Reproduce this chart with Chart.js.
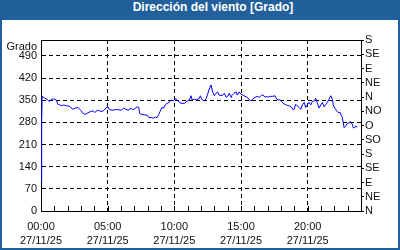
<!DOCTYPE html>
<html>
<head>
<meta charset="utf-8">
<script src="https://cdn.jsdelivr.net/npm/chart.js@4"></script>
<style>
  body { margin: 0; }
  #marco { position: relative; width: 400px; height: 250px; background: #21609b; }
  #titulo { position: absolute; left: 0; top: 0; width: 374px; padding-left: 26px; height: 20px;
            line-height: 20px; text-align: center; color: #fff; font: bold 12px "Liberation Sans", Arial, sans-serif; }
  #caja { position: absolute; left: 2px; top: 20px; width: 396px; height: 228px; background: #fff; }
</style>
</head>
<body>
<div id="marco">
  <div id="titulo">Dirección del viento [Grado]</div>
  <div id="caja"><canvas id="migrafico" width="396" height="228"></canvas></div>
</div>
<script>
// minutos desde las 00:00 del 27/11/25
const minutos = [2, 3, 5, 17, 27, 36, 46, 57, 69, 76,
    84, 94, 103, 114, 125, 134, 144, 154, 166, 179,
    189, 199, 211, 222, 234, 242, 253, 264, 274, 283,
    292, 301, 307, 320, 334, 350, 361, 372, 382, 395,
    402, 413, 424, 432, 440, 444, 454, 467, 477, 485,
    496, 507, 514, 522, 530, 537, 544, 552, 559, 567,
    577, 585, 595, 607, 620, 630, 645, 660, 670, 675,
    680, 690, 701, 712, 717, 725, 735, 743, 750, 757,
    765, 773, 780, 788, 795, 802, 810, 818, 825, 833,
    840, 847, 855, 858, 869, 878, 883, 892, 899, 908,
    918, 928, 937, 945, 953, 963, 973, 982, 993, 1000,
    1008, 1016, 1023, 1030, 1043, 1053, 1061, 1068, 1076, 1083,
    1090, 1098, 1106, 1117, 1128, 1135, 1139, 1146, 1153, 1161,
    1169, 1176, 1184, 1191, 1198, 1206, 1214, 1221, 1229, 1236,
    1243, 1251, 1259, 1266, 1274, 1281, 1288, 1296, 1304, 1311,
    1315, 1322, 1331, 1337, 1346, 1351, 1356, 1364, 1371, 1378,
    1386, 1394, 1401, 1405, 1412, 1416, 1423];
const grados = [93, 280, 363, 356, 353, 346, 352, 354, 350, 337,
    335, 332, 335, 332, 332, 327, 321, 325, 327, 318,
    308, 305, 310, 314, 316, 311, 318, 316, 314, 318,
    325, 329, 321, 318, 320, 320, 318, 325, 321, 318,
    325, 320, 324, 329, 327, 308, 305, 303, 303, 295,
    295, 293, 297, 295, 305, 316, 327, 325, 335, 340,
    343, 351, 348, 355, 345, 340, 340, 348, 353, 364,
    351, 353, 351, 355, 364, 351, 348, 355, 369, 385,
    398, 375, 364, 372, 376, 366, 364, 366, 372, 359,
    362, 372, 359, 364, 372, 376, 366, 376, 369, 366,
    362, 359, 351, 348, 353, 359, 362, 359, 366, 366,
    359, 362, 359, 362, 362, 364, 353, 351, 351, 345,
    340, 337, 334, 332, 327, 319, 321, 337, 332, 327,
    321, 335, 343, 327, 335, 343, 335, 346, 348, 356,
    343, 325, 335, 343, 329, 335, 343, 353, 364, 353,
    335, 325, 316, 311, 311, 303, 295, 263, 268, 276,
    279, 282, 274, 263, 263, 268, 265];
const fecha = "27/11/25";
const rumbos = ["N", "NE", "E", "SE", "S", "SO", "O", "NO", "N", "NE", "E", "SE", "S"];

const fuente = { family: '"Liberation Sans", Arial, sans-serif', size: 11, lineHeight: 1.36 };

const decoracion = {
    id: "decoracion",
    afterDraw(chart) {
        const { ctx, chartArea: a, scales } = chart;
        ctx.save();
        ctx.strokeStyle = "#000";
        ctx.lineWidth = 1;
        ctx.beginPath();
        ctx.moveTo(a.left, a.top + 0.5);
        ctx.lineTo(a.right, a.top + 0.5);
        for (let m = 60; m < 1440; m += 60) {
            const x = Math.round(scales.x.getPixelForValue(m)) + 0.5;
            ctx.moveTo(x, a.bottom);
            ctx.lineTo(x, a.bottom - 5);
        }
        ctx.stroke();
        ctx.fillStyle = "#111";
        ctx.font = '11px "Liberation Sans", Arial, sans-serif';
        ctx.textAlign = "right";
        ctx.textBaseline = "middle";
        ctx.fillText("Grado", a.left - 4, a.top + 7);
        ctx.restore();
    }
};

const migrafico = document.getElementById("migrafico").getContext("2d");
const generaGrafico = new Chart(migrafico, {
    type: "line",
    data: {
        datasets: [{
            data: minutos.map((m, i) => ({ x: m, y: grados[i] })),
            borderColor: "#0000ff",
            borderWidth: 1,
            pointRadius: 0,
            tension: 0
        }]
    },
    options: {
        animation: false,
        responsive: false,
        devicePixelRatio: 1,
        layout: { padding: { top: 20, left: 0, right: 0, bottom: 0 } },
        plugins: { legend: { display: false }, tooltip: { enabled: false } },
        scales: {
            x: {
                type: "linear",
                min: 0,
                max: 1440,
                ticks: {
                    stepSize: 60,
                    autoSkip: false,
                    maxRotation: 0,
                    padding: 8,
                    color: "#111",
                    font: fuente,
                    callback: v => (v % 300 === 0 && v < 1440)
                        ? [String(v / 60).padStart(2, "0") + ":00", fecha] : ""
                },
                grid: {
                    drawTicks: false,
                    color: c => (c.tick && c.tick.value % 300 === 0 && c.tick.value > 0 && c.tick.value < 1440) ? "#000" : "rgba(0,0,0,0)"
                },
                border: { color: "#000", dash: [4, 3] },
                afterFit: s => { s.height = 37; }
            },
            y: {
                position: "left",
                min: 0,
                max: 540,
                ticks: {
                    stepSize: 70,
                    autoSkip: false,
                    padding: 4,
                    color: "#111",
                    font: fuente,
                    callback: v => v <= 490 ? String(v) : ""
                },
                grid: {
                    drawTicks: false,
                    color: c => (c.tick && c.tick.value > 0 && c.tick.value <= 490) ? "#000" : "rgba(0,0,0,0)"
                },
                border: { color: "#000", dash: [4, 3] },
                afterFit: s => { s.width = 39; }
            },
            y2: {
                position: "right",
                min: 0,
                max: 540,
                ticks: {
                    stepSize: 45,
                    autoSkip: false,
                    padding: 1,
                    color: "#111",
                    font: fuente,
                    callback: (v, i) => rumbos[i]
                },
                grid: { drawOnChartArea: false, drawTicks: true, tickLength: 3, color: "#000" },
                border: { color: "#000" },
                afterFit: s => { s.width = 37; }
            }
        }
    },
    plugins: [decoracion]
});
</script>
</body>
</html>
